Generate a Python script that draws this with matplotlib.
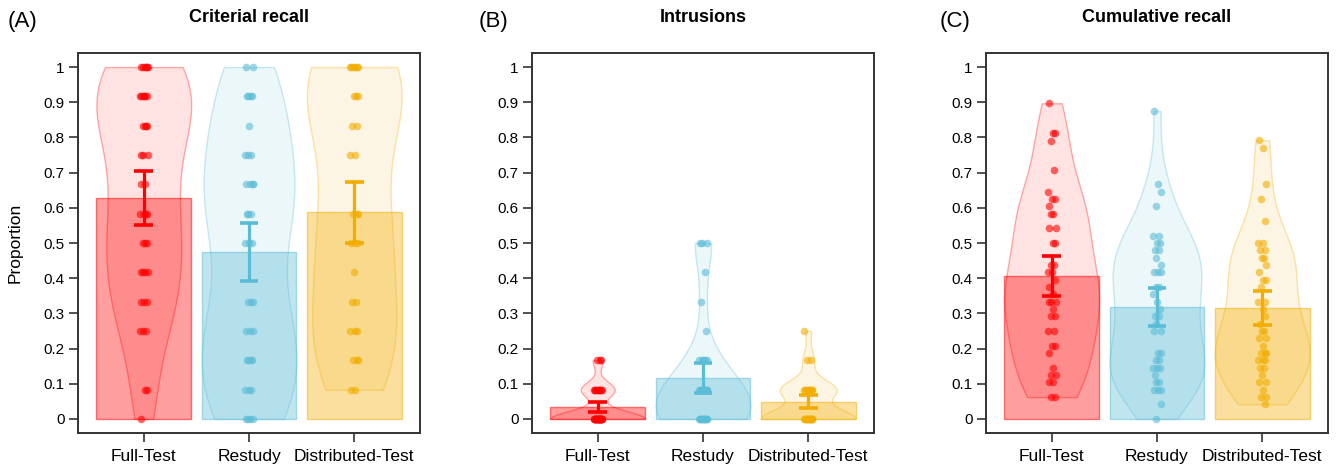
import numpy as np
import matplotlib
matplotlib.use("Agg")
import matplotlib.pyplot as plt
from matplotlib.colors import to_rgb

plt.rcParams.update({
    "font.family": ["Liberation Sans", "DejaVu Sans"],
    "axes.linewidth": 1.4,
    "axes.edgecolor": "#333333",
})

# ---------------- data ----------------
GROUPS = ["Full-Test", "Restudy", "Distributed-Test"]
COLORS = ["#FF0000", "#5BBCD6", "#F2AD00"]

# panel A / B values are multiples of 1/12; counts per level
LEVELS = [0.0, 0.083, 0.167, 0.25, 0.333, 0.417, 0.5, 0.583, 0.667, 0.75, 0.833, 0.917, 1.0]

crit_counts = [
    [1, 2, 0, 3, 3, 4, 3, 4, 2, 3, 4, 6, 6],   # Full-Test
    [4, 3, 4, 3, 3, 0, 3, 3, 4, 3, 1, 4, 2],   # Restudy
    [0, 2, 3, 3, 2, 1, 3, 3, 0, 2, 2, 3, 6],   # Distributed-Test
]
crit_mean = [0.629, 0.475, 0.587]
crit_lo = [0.552, 0.392, 0.500]
crit_hi = [0.706, 0.556, 0.672]

intr_counts = [
    [28, 10, 3, 0, 0, 0, 0, 0, 0, 0, 0, 0, 0],
    [14, 12, 5, 1, 1, 1, 3, 0, 0, 0, 0, 0, 0],
    [17, 10, 2, 1, 0, 0, 0, 0, 0, 0, 0, 0, 0],
]
intr_mean = [0.034, 0.117, 0.049]
intr_lo = [0.019, 0.073, 0.030]
intr_hi = [0.047, 0.159, 0.068]

cum_full = [0.897, 0.812, 0.812, 0.79, 0.708, 0.646, 0.625, 0.625, 0.604, 0.583,
            0.583, 0.542, 0.542, 0.5, 0.5, 0.438, 0.438, 0.417, 0.417, 0.396,
            0.375, 0.354, 0.333, 0.333, 0.333, 0.312, 0.292, 0.292, 0.25, 0.25,
            0.208, 0.208, 0.188, 0.146, 0.125, 0.125, 0.104, 0.104, 0.062, 0.062]
cum_restudy = [0.875, 0.667, 0.646, 0.604, 0.521, 0.521, 0.5, 0.5, 0.479, 0.479,
               0.458, 0.438, 0.417, 0.417, 0.417, 0.375, 0.375, 0.354, 0.333, 0.312,
               0.292, 0.292, 0.271, 0.25, 0.25, 0.188, 0.188, 0.167, 0.167, 0.146,
               0.146, 0.146, 0.125, 0.104, 0.104, 0.083, 0.083, 0.083, 0.042, 0.0]
cum_dist = [0.792, 0.771, 0.667, 0.625, 0.562, 0.5, 0.5, 0.479, 0.479, 0.458,
            0.458, 0.438, 0.417, 0.396, 0.396, 0.375, 0.333, 0.333, 0.312, 0.292,
            0.271, 0.25, 0.25, 0.229, 0.229, 0.208, 0.188, 0.188, 0.188, 0.167,
            0.167, 0.167, 0.146, 0.146, 0.125, 0.104, 0.104, 0.083, 0.062, 0.062, 0.042]
cum_mean = [0.407, 0.319, 0.316]
cum_lo = [0.350, 0.264, 0.266]
cum_hi = [0.464, 0.372, 0.364]

# fixed horizontal jitter pattern for the dots
JITTER = [-0.03, 0.01, 0.035, -0.012, 0.022, -0.038, 0.004, 0.03, -0.022, 0.015, -0.005, 0.04]


def nrd0(kde):
    # R's default bandwidth (bw.nrd0), as a factor of the sd
    x = np.ravel(kde.dataset)
    sd = np.std(x, ddof=1)
    iqr = np.subtract(*np.percentile(x, [75, 25]))
    lo = min(sd, iqr / 1.34) if iqr > 0 else sd
    return 0.9 * lo * len(x) ** -0.2 / sd


def pirate(ax, samples, means, lo, hi):
    pos = np.arange(1, 4)
    for i, (vals, c) in enumerate(zip(samples, COLORS)):
        rgb = to_rgb(c)
        x = pos[i]
        ax.bar(x, means[i], width=0.9, color=rgb + (0.38,),
               edgecolor=rgb + (0.5,), linewidth=1, zorder=1)
        vp = ax.violinplot([vals], positions=[x], widths=0.9, showextrema=False,
                           bw_method=nrd0, points=200)
        for b in vp["bodies"]:
            b.set_alpha(None)
            b.set_facecolor(rgb + (0.11,))
            b.set_edgecolor(rgb + (0.32,))
            b.set_linewidth(1.0)
            b.set_zorder(2)
        jx = [x + JITTER[k % len(JITTER)] for k in range(len(vals))]
        ax.scatter(jx, vals, s=30, color=rgb, alpha=0.6, linewidths=0, zorder=3)
        ax.vlines(x, lo[i], hi[i], color=c, linewidth=2.3, zorder=4)
        ax.hlines([lo[i], hi[i]], x - 0.09, x + 0.09, color=c, linewidth=2.6, zorder=4)

    ax.set_xlim(0.375, 3.625)
    ax.set_ylim(-0.04, 1.04)
    ax.set_yticks(np.arange(0, 1.01, 0.1))
    ax.set_yticklabels(["0", "0.1", "0.2", "0.3", "0.4", "0.5", "0.6", "0.7", "0.8", "0.9", "1"])
    ax.set_xticks(pos)
    ax.set_xticklabels(GROUPS, fontsize=12.5)
    ax.tick_params(axis="y", direction="out", length=6.5, width=1.2, labelsize=11, pad=3, color="#333333")
    ax.tick_params(axis="x", direction="out", length=6.5, width=1.2, pad=5, color="#333333")


crit = [np.repeat(LEVELS, c) for c in crit_counts]
intr = [np.repeat(LEVELS, c) for c in intr_counts]
cum = [cum_full, cum_restudy, cum_dist]

fig = plt.figure(figsize=(13.39, 4.71), dpi=100)
W, H = 1339, 471
panels = [
    (78, crit, crit_mean, crit_lo, crit_hi, "Criterial recall", "(A)", 8),
    (532, intr, intr_mean, intr_lo, intr_hi, "Intrusions", "(B)", 479),
    (986, cum, cum_mean, cum_lo, cum_hi, "Cumulative recall", "(C)", 940),
]
for left, s, m, l, h, title, lab, labx in panels:
    ax = fig.add_axes([left / W, 1 - 433 / H, 342 / W, 380 / H])
    pirate(ax, s, m, l, h)
    cx = (left + 171) / W
    fig.text(cx, 1 - 17 / H, title, ha="center", va="center", fontsize=13, fontweight="bold")
    fig.text(labx / W, 1 - 21 / H, lab, ha="left", va="center", fontsize=16)

fig.text(15.5 / W, 1 - 243 / H, "Proportion", rotation=90, ha="center", va="center", fontsize=12.5)

fig.savefig("out.png", dpi=100)
